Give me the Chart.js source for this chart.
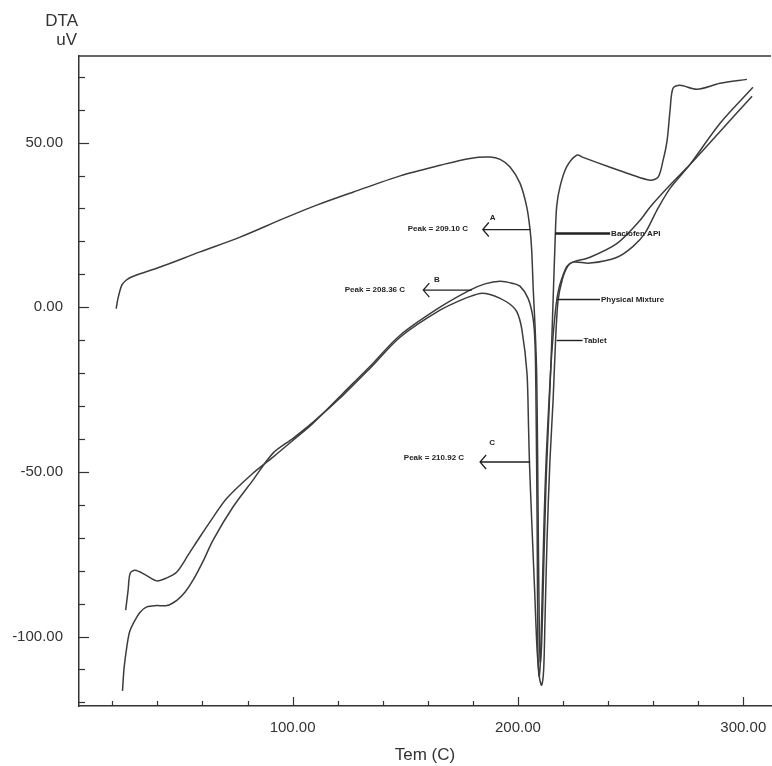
<!DOCTYPE html>
<html>
<head>
<meta charset="utf-8">
<title>DTA - Baclofen</title>
<script src="https://cdn.jsdelivr.net/npm/chart.js@4.4.1/dist/chart.umd.min.js"></script>
<style>
  html, body { margin: 0; padding: 0; background: #fff; }
  canvas { display: block; }
</style>
</head>
<body>
<canvas id="dta" width="772" height="766"></canvas>
<script>
// Baclofen API (curve A)
const apiTemp = [21.7, 22.5, 24.2, 26.1, 29.3, 41.2, 58.9, 76.7, 95.9, 110.7, 127.0, 147.7, 165.4, 178.7, 187.6,
  192.1, 196.5, 200.9, 203.9, 205.4, 206.1, 206.8, 207.6, 208.3, 208.7, 209.1, 209.5, 209.9, 210.5, 211.4,
  212.5, 213.6, 214.7, 215.6, 216.5, 217.2, 218.7, 221.6, 226.1, 228.9, 240.9, 249.8, 258.6, 262.2, 264.4,
  266.2, 267.5, 268.8, 271.9, 279.5, 289.7, 301.6];
const apiDta = [-0.4, 2.7, 6.7, 8.2, 9.4, 12.2, 16.8, 21.3, 26.9, 31.0, 35.0, 39.9, 43.1, 45.2, 45.6,
  44.9, 42.6, 37.7, 30.5, 23.4, 17.3, 5.2, -6.0, -20.0, -43.4, -73.8, -98.1, -107.8, -102.6, -79.9,
  -52.5, -34.3, -16.1, 2.1, 20.3, 30.7, 36.7, 42.6, 46.2, 45.5, 42.5, 40.4, 38.6, 39.5, 44.6,
  50.7, 59.8, 66.5, 67.4, 66.2, 68.0, 69.2];

// Physical mixture (curve B)
const mixTemp = [25.9, 27.0, 27.9, 30.1, 34.5, 39.7, 43.8, 48.6, 53.6, 58.9, 64.7, 70.8, 82.4, 91.3, 100.2,
  109.1, 122.4, 134.4, 147.7, 165.4, 178.7, 185.4, 192.1, 197.4, 200.9, 204.5, 206.7, 207.6, 208.0, 208.5,
  208.7, 208.9, 209.4, 210.0, 210.7, 211.6, 212.5, 213.8, 215.1, 216.9, 218.2, 220.0, 221.8, 224.4, 232.0,
  244.0, 254.2, 258.6, 267.5, 276.4, 289.7, 303.9];
const mixDta = [-92.0, -85.9, -80.8, -79.9, -81.2, -83.1, -82.3, -80.4, -75.3, -69.7, -63.8, -58.0, -50.4, -45.5, -40.4,
  -35.2, -26.1, -17.9, -8.5, 0.0, 5.2, 7.1, 7.9, 7.3, 6.4, 2.7, -3.3, -11.5, -28.2, -64.7,
  -89.0, -105.7, -112.1, -107.2, -89.0, -64.7, -46.5, -28.2, -13.1, 0.6, 5.8, 9.7, 12.5, 13.7, 15.2,
  19.4, 26.4, 30.4, 37.1, 43.4, 53.4, 64.1];

// Tablet (curve C)
const tabTemp = [24.5, 25.2, 26.4, 27.6, 29.3, 32.3, 35.3, 39.4, 44.2, 48.6, 52.3, 55.8, 60.3, 64.7, 73.6,
  82.4, 91.3, 100.2, 109.1, 122.4, 134.4, 147.7, 165.4, 176.5, 183.2, 187.6, 192.1, 196.5, 199.6, 201.8,
  204.0, 204.7, 205.1, 206.1, 207.4, 208.5, 209.6, 210.5, 211.4, 212.0, 212.9, 214.2, 215.6, 216.7, 217.8,
  219.6, 221.8, 224.4, 232.0, 244.0, 251.1, 256.4, 261.7, 267.5, 276.4, 289.7, 304.3];
const tabDta = [-116.5, -109.6, -103.2, -98.7, -96.0, -92.6, -91.0, -90.6, -90.6, -89.0, -86.5, -82.9, -77.1, -70.7, -60.6,
  -52.5, -44.3, -39.8, -34.9, -26.7, -18.5, -9.1, -0.9, 2.7, 4.2, 3.9, 2.7, 0.9, -1.5, -7.0,
  -20.0, -36.4, -47.1, -64.7, -85.9, -104.2, -112.7, -114.8, -110.2, -95.1, -70.8, -46.5, -28.2, -10.0, 2.1,
  8.2, 12.1, 13.7, 13.4, 15.2, 18.5, 22.5, 29.5, 36.1, 43.4, 55.9, 66.8];

// axis ticks
const xTickLabels = [100, 200, 300];
const xMinorTicks = [20, 40, 60, 80, 120, 140, 160, 180, 220, 240, 260, 280];
const yTickLabels = [-100, -50, 0, 50];
const yMinorTicks = [-120, -110, -90, -80, -70, -60, -40, -30, -20, -10, 10, 20, 30, 40, 60, 70];

// peak call-outs (arrow from tip to the curve, in data units)
const peakTexts = ['Peak = 209.10 C', 'Peak = 208.36 C', 'Peak = 210.92 C'];
const peakLetters = ['A', 'B', 'C'];
const peakArrowTip = [[184.4, 23.6], [158.0, 5.2], [183.2, -47.0]];
const peakArrowEnd = [205.4, 179.5, 205.4];
const peakTextAt = [[177.8, 23.7], [149.9, 5.4], [176.1, -45.6]];
const peakLetterAt = [[188.8, 27.2], [164.0, 8.4], [188.5, -41.1]];

// curve names with leader lines
const curveNames = ['Baclofen API', 'Physical Mixture', 'Tablet'];
const nameLineFrom = [[216.5, 22.6], [217.2, 2.6], [217.2, -10.0]];
const nameLineTo = [240.9, 236.4, 228.7];

const FONT = 'Arial, "Liberation Sans", sans-serif';
const ink = '#333333';
const curveColor = '#3c3c3c';

function toPoints(xs, ys) {
  return xs.map((t, i) => ({ x: t, y: ys[i] }));
}

// draws the top frame line, inward tick marks, the y-axis title and the call-outs
const dtaExtras = {
  id: 'dtaExtras',
  afterDraw(chart) {
    const { ctx, chartArea: area, scales: { x, y } } = chart;
    ctx.save();

    ctx.strokeStyle = ink;
    ctx.lineWidth = 1.5;
    ctx.beginPath();
    ctx.moveTo(area.left, area.top);
    ctx.lineTo(area.right, area.top);
    ctx.stroke();

    // tick marks pointing into the plot
    ctx.lineWidth = 1.2;
    const xTick = (v, len) => {
      const px = Math.round(x.getPixelForValue(v)) + 0.5;
      ctx.beginPath();
      ctx.moveTo(px, area.bottom);
      ctx.lineTo(px, area.bottom - len);
      ctx.stroke();
    };
    const yTick = (v, len) => {
      const py = Math.round(y.getPixelForValue(v)) + 0.5;
      ctx.beginPath();
      ctx.moveTo(area.left, py);
      ctx.lineTo(area.left + len, py);
      ctx.stroke();
    };
    xMinorTicks.forEach(v => xTick(v, 5));
    xTickLabels.forEach(v => xTick(v, 9));
    yMinorTicks.forEach(v => yTick(v, 6));
    yTickLabels.forEach(v => yTick(v, 10));

    // y-axis title above the axis
    ctx.fillStyle = ink;
    ctx.font = '17px ' + FONT;
    ctx.textAlign = 'right';
    ctx.textBaseline = 'middle';
    ctx.fillText('DTA', area.left - 1, 21);
    ctx.fillText('uV', area.left - 2, 40);

    // peak arrows
    ctx.strokeStyle = '#222';
    ctx.fillStyle = '#222';
    ctx.font = 'bold 8px ' + FONT;
    peakTexts.forEach((label, i) => {
      const tx = x.getPixelForValue(peakArrowTip[i][0]);
      const ty = y.getPixelForValue(peakArrowTip[i][1]);
      const ex = x.getPixelForValue(peakArrowEnd[i]);
      ctx.lineWidth = 1.3;
      ctx.beginPath();
      ctx.moveTo(ex, ty);
      ctx.lineTo(tx, ty);
      ctx.moveTo(tx + 6, ty - 7);
      ctx.lineTo(tx, ty);
      ctx.lineTo(tx + 6, ty + 7);
      ctx.stroke();

      ctx.textAlign = 'right';
      ctx.fillText(label, x.getPixelForValue(peakTextAt[i][0]), y.getPixelForValue(peakTextAt[i][1]));
      ctx.textAlign = 'center';
      ctx.fillText(peakLetters[i], x.getPixelForValue(peakLetterAt[i][0]), y.getPixelForValue(peakLetterAt[i][1]));
    });

    // curve names
    curveNames.forEach((name, i) => {
      const fx = x.getPixelForValue(nameLineFrom[i][0]);
      const fy = Math.round(y.getPixelForValue(nameLineFrom[i][1])) + 0.5;
      const toX = x.getPixelForValue(nameLineTo[i]);
      ctx.lineWidth = i === 0 ? 2.6 : 1.4;
      ctx.beginPath();
      ctx.moveTo(fx, fy);
      ctx.lineTo(toX, fy);
      ctx.stroke();
      ctx.textAlign = 'left';
      ctx.fillText(name, toX + 1, fy);
    });

    ctx.restore();
  }
};

const curveStyle = {
  showLine: true,
  borderColor: curveColor,
  borderWidth: 1.5,
  pointRadius: 0,
  tension: 0.3,
  fill: false
};

new Chart(document.getElementById('dta'), {
  type: 'scatter',
  data: {
    datasets: [
      Object.assign({ label: curveNames[0], data: toPoints(apiTemp, apiDta) }, curveStyle),
      Object.assign({ label: curveNames[1], data: toPoints(mixTemp, mixDta) }, curveStyle),
      Object.assign({ label: curveNames[2], data: toPoints(tabTemp, tabDta) }, curveStyle)
    ]
  },
  options: {
    responsive: false,
    animation: false,
    layout: { padding: { top: 56, right: 1, left: 0, bottom: 0 } },
    plugins: {
      legend: { display: false },
      tooltip: { enabled: false }
    },
    scales: {
      x: {
        type: 'linear',
        min: 5.2,
        max: 312.3,
        afterBuildTicks: s => { s.ticks = xTickLabels.map(v => ({ value: v })); },
        afterFit: s => {
          s.height = 60;
          s.paddingLeft = 0;
          s.paddingRight = 0;
        },
        grid: { display: false, drawTicks: false },
        border: { display: true, color: ink, width: 1.5 },
        ticks: {
          padding: 13,
          color: ink,
          maxRotation: 0,
          autoSkip: false,
          font: { family: FONT, size: 15 },
          callback: v => v.toFixed(2)
        },
        title: {
          display: true,
          text: 'Tem (C)',
          color: ink,
          font: { family: FONT, size: 17 },
          padding: { top: 0, bottom: 0 }
        }
      },
      y: {
        type: 'linear',
        min: -121.1,
        max: 76.3,
        afterBuildTicks: s => { s.ticks = yTickLabels.map(v => ({ value: v })); },
        afterFit: s => {
          s.width = 79;
          s.paddingTop = 0;
          s.paddingBottom = 0;
        },
        grid: { display: false, drawTicks: false },
        border: { display: true, color: ink, width: 1.5 },
        ticks: {
          padding: 16,
          color: ink,
          font: { family: FONT, size: 15 },
          callback: v => v.toFixed(2)
        }
      }
    }
  },
  plugins: [dtaExtras]
});
</script>
</body>
</html>
